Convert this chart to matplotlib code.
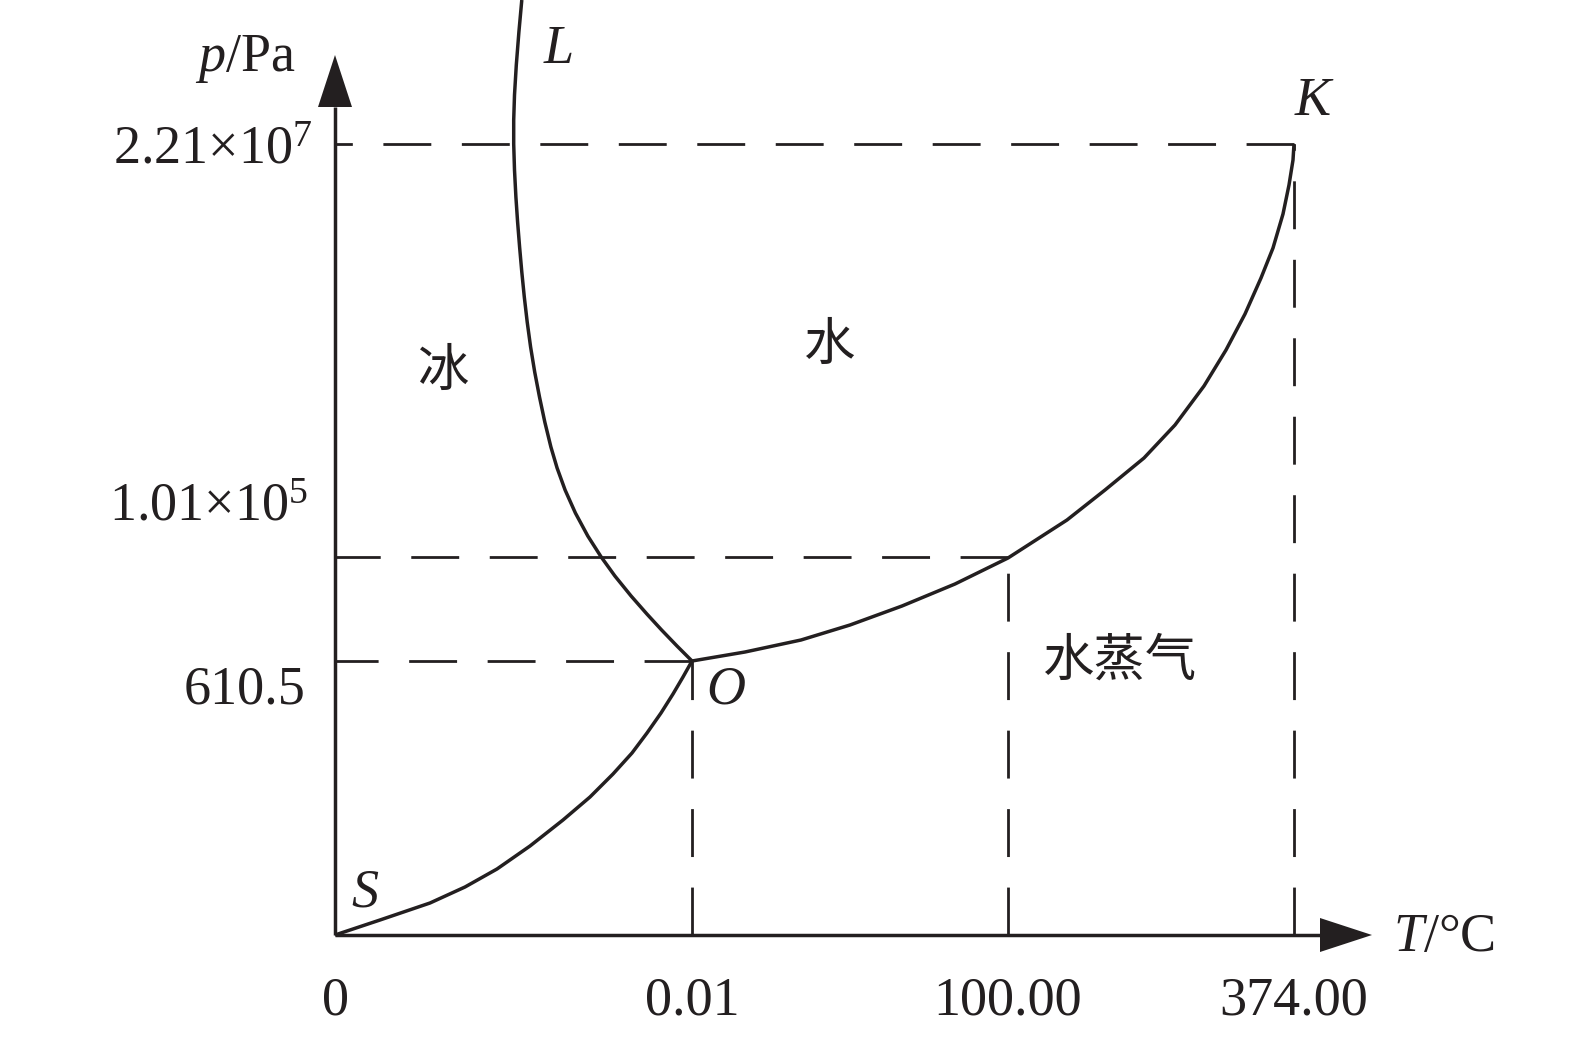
import matplotlib
matplotlib.use("Agg")
import matplotlib.pyplot as plt

# ---------------- data (schematic positions) ----------------
T_tick_labels = ["0", "0.01", "100.00", "374.00"]
T_tick_pos = [0, 357, 673, 959]

p_tick_labels = ["610.5", "1.01×10$^{5}$", "2.21×10$^{7}$"]
p_tick_pos = [274, 378, 791]

# OS : ice <-> vapour (sublimation)
subl_T = [0, 45, 95, 130, 162, 195, 228, 255, 278, 297, 312, 326, 338, 348, 357]
subl_p = [0, 15, 32, 48, 66, 89, 115, 138, 161, 182, 202, 222, 241, 258, 274]

# OL : ice <-> water (melting)
melt_T = [357, 342, 326.6, 311.9, 296.1, 279.9, 266.2, 252.8, 240.4, 230.1, 222.1, 215.9,
          209.8, 204.5, 199.7, 195.6, 192.2, 189.3, 186.8, 184.6, 182.6, 180.9, 179.5,
          178.7, 178.7, 179.5, 181.3, 183.9, 186.8]
melt_p = [274, 289, 305, 321, 339, 359, 378, 399, 422, 445, 467, 488,
          513, 538, 563, 588, 613, 638, 663, 688, 713, 738, 765,
          791, 815, 840, 870, 903, 935]

# OK : water <-> vapour (vaporisation)
vap_T = [357, 410, 466, 515, 567, 620, 673, 732, 770, 809, 840, 869, 891, 910, 926,
         938, 948, 954, 958, 959]
vap_p = [274, 283, 295, 310, 329, 351, 377, 415, 445, 477, 510, 549, 585, 621, 657,
         687, 721, 750, 775, 791]

point_names = ["S", "O", "L", "K"]
region_names = ["冰", "水", "水蒸气"]

# ---------------- style ----------------
plt.rcParams["font.family"] = ["Liberation Serif", "Noto Sans CJK SC", "DejaVu Sans"]
plt.rcParams["mathtext.fontset"] = "custom"
plt.rcParams["mathtext.rm"] = "Liberation Serif"
plt.rcParams["mathtext.it"] = "Liberation Serif:italic"
plt.rcParams["lines.scale_dashes"] = False

W, H = 1575, 1037
fig = plt.figure(figsize=(W / 100, H / 100), dpi=100)
ax = fig.add_axes([0, 0, 1, 1])
ox, oy = 335, 935  # origin location in the canvas
ax.set_xlim(-ox, W - ox)
ax.set_ylim(oy - H, oy)
ax.axis("off")

ink = "#231f20"
fs = 39
cjk = ["Noto Sans CJK SC"]

# axes with arrows
x_end, y_end = 985, 828
arr_len, arr_half = 52, 17
ax.plot([0, 0], [0, y_end], color=ink, lw=2.5, solid_capstyle="butt")
ax.plot([0, x_end], [0, 0], color=ink, lw=2.5, solid_capstyle="butt")
ax.fill([-arr_half, arr_half, 0], [y_end, y_end, y_end + arr_len], color=ink, lw=0)
ax.fill([x_end, x_end, x_end + arr_len], [-arr_half, arr_half, 0], color=ink, lw=0)

# dashed guides
dash = dict(color=ink, lw=2.0, linestyle=(0, (34.5, 22)))
curve_T_at_p = [melt_T[0], vap_T[6], vap_T[-1]]
for pv, tv in zip(p_tick_pos, curve_T_at_p):
    ax.plot([tv, 0], [pv, pv], **dash)
curve_p_at_T = [subl_p[-1], vap_p[6], vap_p[-1]]
for tv, pv in zip(T_tick_pos[1:], curve_p_at_T):
    ax.plot([tv, tv], [0, pv], **dash)

# phase boundary curves
for xs, ys in [(subl_T, subl_p), (melt_T, melt_p), (vap_T, vap_p)]:
    ax.plot(xs, ys, color=ink, lw=2.5, solid_joinstyle="round", solid_capstyle="butt")

# tick labels
for tv, lab in zip(T_tick_pos, T_tick_labels):
    ax.text(tv, -66, lab, ha="center", va="center", fontsize=fs, color=ink)
p_label_dy = [-29, 50, -6]
p_label_right = [-30, -27, -22]
for pv, lab, dy, xr in zip(p_tick_pos, p_tick_labels, p_label_dy, p_label_right):
    ax.text(xr, pv + dy, lab, ha="right", va="center", fontsize=fs, color=ink)

# axis titles
ax.text(-90, 876, "$p$/Pa", ha="center", va="center", fontsize=fs, color=ink)
ax.text(1058, -3, "$T$/°C", ha="left", va="center", fontsize=fs, color=ink)

# point labels
pt_xy = [(30, 42), (391, 245), (224, 885), (978, 833)]
for (px, py), name in zip(pt_xy, point_names):
    ax.text(px, py, name, ha="center", va="center", fontsize=fs, color=ink,
            fontstyle="italic")

# region labels
reg_xy = [(109, 564), (495, 590), (785, 274)]
for (rx, ry), name in zip(reg_xy, region_names):
    ax.text(rx, ry, name, ha="center", va="center", fontsize=37, color=ink,
            family=cjk, fontweight="light")

fig.savefig("out.png", dpi=100, facecolor="white")
